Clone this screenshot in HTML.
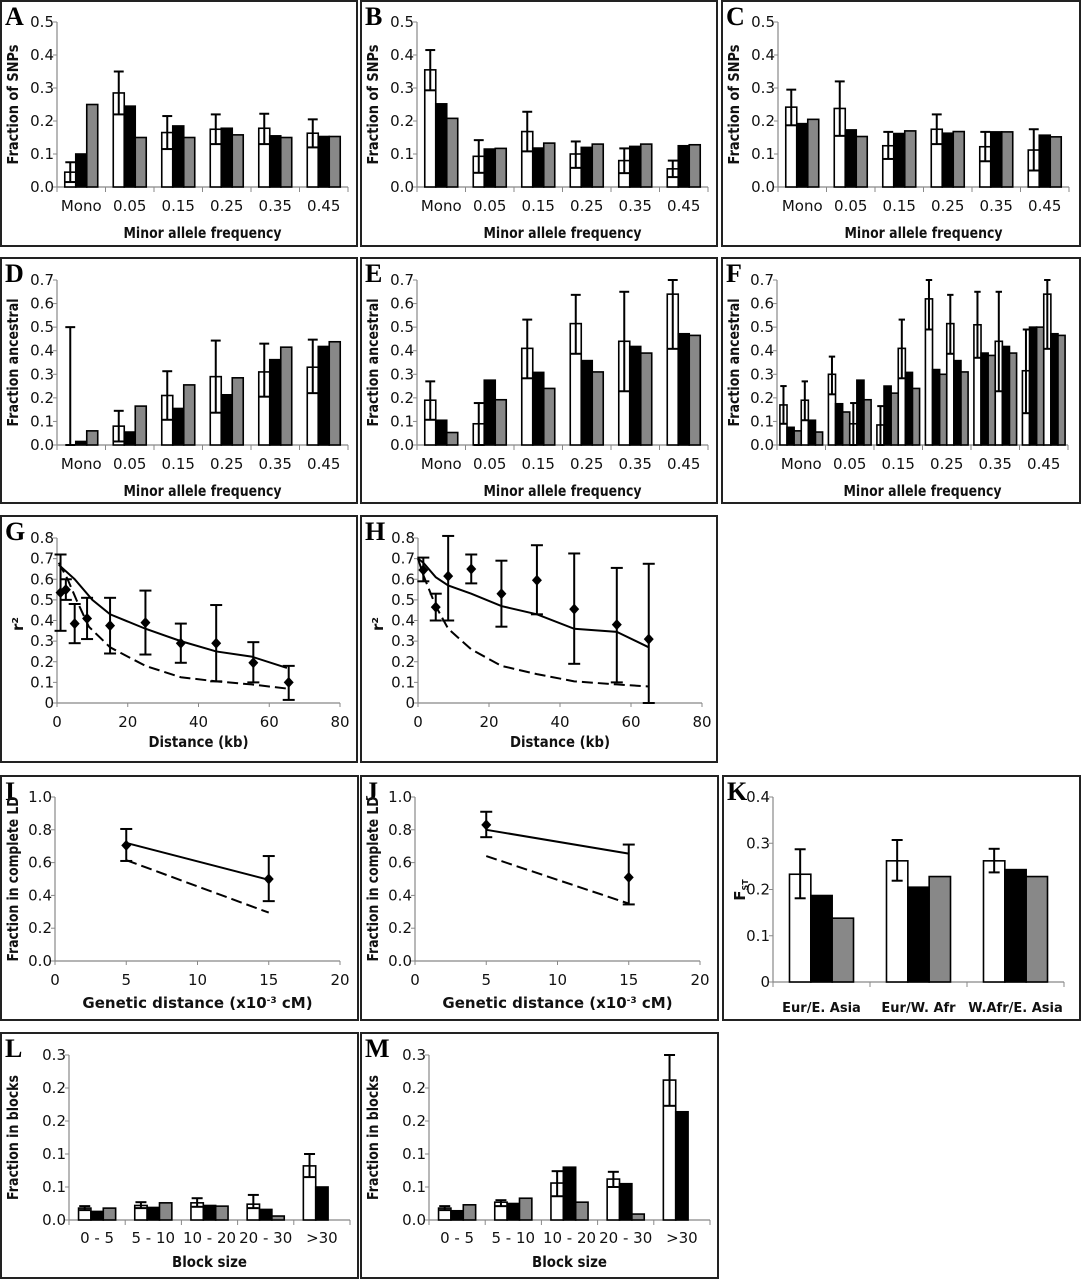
<!DOCTYPE html>
<html><head><meta charset="utf-8"><style>
html,body{margin:0;padding:0;background:#fff}
svg text{font-family:"DejaVu Sans","Liberation Sans",sans-serif}
.lt{font-family:"Liberation Serif",serif;font-weight:bold;font-size:26px}
.tk{font-size:15px;fill:#111}
.ti{font-size:15px;font-weight:bold;fill:#111}
.kl{font-size:13px;font-weight:bold;fill:#111}
</style></head><body>
<svg id="fig" xmlns="http://www.w3.org/2000/svg" width="1083" height="1280" viewBox="0 0 1083 1280"></svg>
<script>
// ---------- DATA ----------
const mafCats = ["Mono","0.05","0.15","0.25","0.35","0.45"];
const snpTicks = ["0.0","0.1","0.2","0.3","0.4","0.5"];
const ancTicks = ["0.0","0.1","0.2","0.3","0.4","0.5","0.6","0.7"];
// A
const aWhite = [0.045,0.285,0.165,0.175,0.178,0.163];
const aHi = [0.075,0.35,0.215,0.22,0.222,0.205];
const aLo = [0.015,0.22,0.115,0.13,0.13,0.12];
const aBlack = [0.1,0.245,0.185,0.178,0.155,0.153];
const aGray = [0.25,0.15,0.15,0.158,0.15,0.153];
// B
const bWhite = [0.355,0.093,0.168,0.1,0.08,0.055];
const bHi = [0.415,0.142,0.228,0.138,0.117,0.08];
const bLo = [0.293,0.043,0.108,0.058,0.042,0.03];
const bBlack = [0.252,0.115,0.118,0.12,0.123,0.125];
const bGray = [0.208,0.117,0.133,0.13,0.13,0.128];
// C
const cWhite = [0.242,0.238,0.125,0.175,0.122,0.112];
const cHi = [0.295,0.32,0.167,0.22,0.167,0.175];
const cLo = [0.187,0.155,0.085,0.13,0.078,0.05];
const cBlack = [0.192,0.173,0.162,0.163,0.167,0.157];
const cGray = [0.205,0.153,0.17,0.168,0.167,0.152];
// D
const dWhite = [0.0,0.08,0.21,0.29,0.31,0.33];
const dHi = [0.5,0.145,0.313,0.443,0.43,0.447];
const dLo = [0.0,0.015,0.107,0.137,0.205,0.22];
const dBlack = [0.015,0.055,0.155,0.213,0.362,0.418];
const dGray = [0.06,0.165,0.255,0.285,0.415,0.438];
// E
const eWhite = [0.19,0.09,0.41,0.515,0.44,0.64];
const eHi = [0.27,0.178,0.532,0.637,0.65,0.7];
const eLo = [0.107,0.0,0.283,0.387,0.228,0.408];
const eBlack = [0.105,0.275,0.308,0.358,0.418,0.472];
const eGray = [0.053,0.192,0.24,0.31,0.39,0.465];
// F (two sets)
const fWhite1 = [0.17,0.30,0.085,0.62,0.51,0.315];
const fHi1 = [0.25,0.375,0.165,0.70,0.65,0.49];
const fLo1 = [0.09,0.215,0.0,0.49,0.37,0.135];
const fBlack1 = [0.075,0.175,0.25,0.32,0.39,0.50];
const fGray1 = [0.06,0.14,0.22,0.30,0.38,0.50];
const fWhite2 = [0.19,0.09,0.41,0.515,0.44,0.64];
const fHi2 = [0.27,0.178,0.532,0.637,0.65,0.7];
const fLo2 = [0.105,0.0,0.283,0.387,0.228,0.408];
const fBlack2 = [0.105,0.275,0.308,0.358,0.418,0.472];
const fGray2 = [0.055,0.192,0.24,0.31,0.39,0.465];
// G
const r2Ticks = ["0","0.1","0.2","0.3","0.4","0.5","0.6","0.7","0.8"];
const distTicks = ["0","20","40","60","80"];
const gX = [1,2.5,5,8.5,15,25,35,45,55.5,65.5];
const gY = [0.535,0.55,0.385,0.41,0.375,0.39,0.29,0.29,0.195,0.1];
const gHi = [0.72,0.6,0.48,0.51,0.51,0.545,0.385,0.475,0.295,0.18];
const gLo = [0.35,0.5,0.29,0.31,0.24,0.235,0.195,0.105,0.1,0.015];
const gLineX = [0.5,5,10,15,25,35,45,55,65];
const gSolid = [0.67,0.6,0.5,0.43,0.36,0.3,0.25,0.225,0.17];
const gDashX = [0.5,3,5.5,9,15,25,35,45,55,65];
const gDash = [0.68,0.6,0.5,0.37,0.27,0.18,0.125,0.105,0.09,0.07];
// H
const hX = [1.5,5,8.5,15,23.5,33.5,44,56,65];
const hY = [0.645,0.465,0.615,0.65,0.53,0.595,0.455,0.38,0.31];
const hHi = [0.705,0.53,0.81,0.72,0.69,0.765,0.725,0.655,0.675];
const hLo = [0.59,0.4,0.4,0.58,0.37,0.43,0.19,0.1,0];
const hLineX = [0,1.5,5,8.5,15,23.5,33.5,44,56,65];
const hSolid = [0.7,0.68,0.61,0.57,0.53,0.47,0.43,0.36,0.345,0.27];
const hDash = [0.7,0.62,0.47,0.36,0.26,0.18,0.14,0.105,0.09,0.08];
// I, J
const ldTicks = ["0.0","0.2","0.4","0.6","0.8","1.0"];
const gdTicks = ["0","5","10","15","20"];
const ijX = [5,15];
const iY = [0.705,0.5], iHi = [0.805,0.64], iLo = [0.61,0.365];
const iSolid = [0.72,0.495], iDash = [0.615,0.295];
const jY = [0.83,0.51], jHi = [0.91,0.71], jLo = [0.755,0.345];
const jSolid = [0.8,0.655], jDash = [0.64,0.35];
// K
const kCats = ["Eur/E. Asia","Eur/W. Afr","W.Afr/E. Asia"];
const kTicks = ["0","0.1","0.2","0.3","0.4"];
const kWhite = [0.233,0.262,0.262];
const kHi = [0.287,0.307,0.288];
const kLo = [0.181,0.219,0.237];
const kBlack = [0.187,0.205,0.243];
const kGray = [0.138,0.228,0.228];
// L, M
const blkCats = ["0 - 5","5 - 10","10 - 20","20 - 30",">30"];
const blkTicks = ["0.0","0.1","0.1","0.2","0.2","0.3"];
const lWhite = [0.018,0.022,0.026,0.024,0.082];
const lHi = [0.021,0.027,0.033,0.038,0.1];
const lLo = [0.015,0.018,0.02,0.018,0.065];
const lBlack = [0.013,0.019,0.022,0.016,0.05];
const lGray = [0.018,0.026,0.021,0.006,0];
const mWhite = [0.018,0.027,0.056,0.062,0.212];
const mHi = [0.021,0.03,0.074,0.073,0.25];
const mLo = [0.015,0.021,0.036,0.05,0.173];
const mBlack = [0.014,0.025,0.08,0.055,0.164];
const mGray = [0.023,0.033,0.027,0.009,0];

// ---------- DRAWING ----------
const NS = "http://www.w3.org/2000/svg";
const svg = document.getElementById("fig");
function mk(tag, attrs, parent){
  const e = document.createElementNS(NS, tag);
  for (const k in attrs) e.setAttribute(k, attrs[k]);
  (parent || svg).appendChild(e);
  return e;
}
function txt(parent, x, y, s, cls, anchor){
  const t = mk("text", {x:x, y:y, "class":cls, "text-anchor":anchor||"middle"}, parent);
  t.textContent = s;
  return t;
}
function sy(P, v){ return P.yb - v / P.ymax * (P.yb - P.yt); }
function sx(P, v){ return P.x0 + v / P.xmax * (P.x1 - P.x0); }

function panel(name, letter, bx, by, bw, bh){
  const g = mk("g", {});
  
  
  const r = mk("rect", {x:bx, y:by, width:bw, height:bh, fill:"none", stroke:"#222", "stroke-width":2}, g);
  
  
  const l = txt(g, bx + 4, by + 24, letter, "lt", "start");
  
  
  return g;
}
function yAxis(g, P, labels){
  const ax = mk("line", {x1:P.x0, y1:P.yb, x2:P.x0, y2:P.yt, stroke:"#888", "stroke-width":1.2}, g);
  
  
  const step = P.ymax / (labels.length - 1);
  labels.forEach((s, i) => {
    const y = sy(P, i * step);
    mk("line", {x1:P.x0 - 4, y1:y, x2:P.x0, y2:y, stroke:"#888"}, g);
    const t = txt(g, P.x0 - 3, y + 5, s, "tk", "end");
    
    
  });
}
function yTitle(g, P, s, x, len){
  const cy = (P.yb + P.yt) / 2;
  const t = mk("text", {x:x, y:cy, "class":"ti", "text-anchor":"middle", transform:"rotate(-90 " + x + " " + cy + ")", textLength:len, lengthAdjust:"spacingAndGlyphs"}, g);
  t.textContent = s;
  
  
  return t;
}
function xTitle(g, P, s, y, len){
  const t = mk("text", {x:(P.x0 + P.x1) / 2 + (P.tdx || 0), y:y, "class":"ti", "text-anchor":"middle", textLength:len, lengthAdjust:"spacingAndGlyphs"}, g);
  t.textContent = s;
  
  
  return t;
}
function errBar(g, x, yh, yl, cap, sw){
  const e = mk("g", {}, g);
  
  
  mk("line", {x1:x, y1:yh, x2:x, y2:yl, stroke:"#000", "stroke-width":sw || 2}, e);
  mk("line", {x1:x - cap / 2, y1:yh, x2:x + cap / 2, y2:yh, stroke:"#000", "stroke-width":2}, e);
  mk("line", {x1:x - cap / 2, y1:yl, x2:x + cap / 2, y2:yl, stroke:"#000", "stroke-width":2}, e);
}
const FILLS = {w:"#fff", b:"#000", g:"#888"};
function barChart(g, P, cats, series, kinds, errs, labY){
  const n = cats.length, cw = (P.x1 - P.x0) / n, gw = cw * P.gf, bw = gw / series.length;
  mk("line", {x1:P.x0, y1:P.yb, x2:P.x1, y2:P.yb, stroke:"#888", "stroke-width":1.2}, g);
  for (let i = 0; i <= n; i++) {
    const x = P.x0 + i * cw;
    mk("line", {x1:x, y1:P.yb, x2:x, y2:P.yb + 5, stroke:"#888"}, g);
  }
  cats.forEach((c, i) => {
    const t = txt(g, P.x0 + (i + 0.5) * cw + (P.ldx || 0), labY, c, P.labCls || "tk", "middle");
    
    
  });
  series.forEach((arr, j) => {
    arr.forEach((v, i) => {
      const x = P.x0 + i * cw + (cw - gw) / 2 + j * bw;
      const y = sy(P, v);
      const r = mk("rect", {x:x, y:y, width:bw, height:Math.max(0, P.yb - y), fill:FILLS[kinds[j]], stroke:"#000", "stroke-width":1.6}, g);
      
      
    });
  });
  errs.forEach(([j, hi, lo]) => {
    hi.forEach((h, i) => {
      const x = P.x0 + i * cw + (cw - gw) / 2 + (j + 0.5) * bw;
      errBar(g, x, sy(P, h), sy(P, lo[i]), Math.min(bw * 0.9, 11));
    });
  });
}
function scatterChart(g, P, xLabels, px, py, hi, lo, lx, solid, dx, dash){
  mk("line", {x1:P.x0, y1:P.yb, x2:P.x1, y2:P.yb, stroke:"#888", "stroke-width":1.2}, g);
  const step = P.xmax / (xLabels.length - 1);
  xLabels.forEach((s, i) => {
    const x = sx(P, i * step);
    mk("line", {x1:x, y1:P.yb, x2:x, y2:P.yb + 4, stroke:"#888"}, g);
    const t = txt(g, x, P.yb + 24, s, "tk", "middle");
    
    
  });
  const sp = mk("polyline", {points:lx.map((x, i) => sx(P, x) + "," + sy(P, solid[i])).join(" "), fill:"none", stroke:"#000", "stroke-width":2}, g);
  
  
  const dp = mk("polyline", {points:dx.map((x, i) => sx(P, x) + "," + sy(P, dash[i])).join(" "), fill:"none", stroke:"#000", "stroke-width":2, "stroke-dasharray":"11,5"}, g);
  
  
  px.forEach((x, i) => {
    const X = sx(P, x);
    errBar(g, X, sy(P, hi[i]), sy(P, lo[i]), 12, 2);
    const Y = sy(P, py[i]);
    const d = mk("polygon", {points:[X, Y - 5.5, X + 5, Y, X, Y + 5.5, X - 5, Y].join(","), fill:"#000"}, g);
    
    
  });
}

// Row 1
[["panel-a","A",1,57,348,[aWhite,aBlack,aGray],aHi,aLo],
 ["panel-b","B",361,417,708,[bWhite,bBlack,bGray],bHi,bLo],
 ["panel-c","C",722,778,1069,[cWhite,cBlack,cGray],cHi,cLo]].forEach(c => {
  const g = panel(c[0], c[1], c[2], 1, c[2] === 722 ? 358 : 356, 245);
  const P = {x0:c[3], x1:c[4], yb:187, yt:22, ymax:0.5, gf:0.68};
  yAxis(g, P, snpTicks);
  barChart(g, P, mafCats, c[5], ["w","b","g"], [[0, c[6], c[7]]], 211);
  yTitle(g, P, "Fraction of SNPs", c[2] + 17, 120);
  xTitle(g, P, "Minor allele frequency", 238, 158);
});
// Row 2
[["panel-d","D",1,57,348,[dWhite,dBlack,dGray],dHi,dLo],
 ["panel-e","E",361,417,708,[eWhite,eBlack,eGray],eHi,eLo]].forEach(c => {
  const g = panel(c[0], c[1], c[2], 258, 356, 245);
  const P = {x0:c[3], x1:c[4], yb:445, yt:280, ymax:0.7, gf:0.68};
  yAxis(g, P, ancTicks);
  barChart(g, P, mafCats, c[5], ["w","b","g"], [[0, c[6], c[7]]], 469);
  yTitle(g, P, "Fraction ancestral", c[2] + 17, 128);
  xTitle(g, P, "Minor allele frequency", 496, 158);
});
(function(){
  const g = panel("panel-f","F",722,258,358,245);
  const P = {x0:777, x1:1068, yb:445, yt:280, ymax:0.7, gf:0.88};
  yAxis(g, P, ancTicks);
  barChart(g, P, mafCats, [fWhite1,fBlack1,fGray1,fWhite2,fBlack2,fGray2], ["w","b","g","w","b","g"], [[0,fHi1,fLo1],[3,fHi2,fLo2]], 469);
  yTitle(g, P, "Fraction ancestral", 739, 128);
  xTitle(g, P, "Minor allele frequency", 496, 158);
})();
// Row 3
[["panel-g","G",1,57,340,gX,gY,gHi,gLo,gLineX,gSolid,gDashX,gDash],
 ["panel-h","H",361,418,702,hX,hY,hHi,hLo,hLineX,hSolid,hLineX,hDash]].forEach(c => {
  const g = panel(c[0], c[1], c[2], 516, 356, 246);
  const P = {x0:c[3], x1:c[4], yb:703, yt:538, ymax:0.8, xmax:80};
  yAxis(g, P, r2Ticks);
  scatterChart(g, P, distTicks, c[5], c[6], c[7], c[8], c[9], c[10], c[11], c[12]);
  const yt = mk("text", {x:c[2] + 22, y:624, "class":"ti", "text-anchor":"middle", transform:"rotate(-90 " + (c[2] + 22) + " 624)"}, g);
  yt.textContent = "r²";
  
  
  xTitle(g, P, "Distance (kb)", 747, 100);
});
// Row 4
[["panel-i","I",1,55,340,iY,iHi,iLo,iSolid,iDash],
 ["panel-j","J",361,415,700,jY,jHi,jLo,jSolid,jDash]].forEach(c => {
  const g = panel(c[0], c[1], c[2], 776, 357, 244);
  const P = {x0:c[3], x1:c[4], yb:961, yt:797, ymax:1.0, xmax:20};
  yAxis(g, P, ldTicks);
  scatterChart(g, P, gdTicks, ijX, c[5], c[6], c[7], ijX, c[8], ijX, c[9]);
  yTitle(g, P, "Fraction in complete LD", c[2] + 17, 165);
  const t = mk("text", {x:(P.x0 + P.x1) / 2, y:1008, "class":"ti", "text-anchor":"middle"}, g);
  t.textContent = "Genetic distance (x10";
  const s1 = mk("tspan", {"font-size":9, dy:-5}, t); s1.textContent = "-3";
  const s2 = mk("tspan", {dy:5}, t); s2.textContent = " cM)";
  
  
});
(function(){
  const g = panel("panel-k","K",723,776,357,244);
  const P = {x0:773, x1:1064, yb:982, yt:797, ymax:0.4, gf:0.66, labCls:"kl"};
  yAxis(g, P, kTicks);
  barChart(g, P, kCats, [kWhite,kBlack,kGray], ["w","b","g"], [[0,kHi,kLo]], 1012);
  const t = mk("text", {x:745, y:890, "class":"ti", "text-anchor":"middle", transform:"rotate(-90 745 890)", "font-size":15}, g);
  t.textContent = "F";
  const s = mk("tspan", {"font-size":8, dy:3}, t); s.textContent = "ST";
  
  
})();
// Row 5
[["panel-l","L",1,69,350,[lWhite,lBlack,lGray],lHi,lLo],
 ["panel-m","M",361,429,710,[mWhite,mBlack,mGray],mHi,mLo]].forEach(c => {
  const g = panel(c[0], c[1], c[2], 1033, 357, 245);
  const P = {x0:c[3], x1:c[4], yb:1220, yt:1055, ymax:0.25, gf:0.66};
  yAxis(g, P, blkTicks);
  barChart(g, P, blkCats, c[5], ["w","b","g"], [[0, c[6], c[7]]], 1243);
  yTitle(g, P, "Fraction in blocks", c[2] + 17, 125);
  xTitle(g, P, "Block size", 1267, 75);
});
</script>
</body></html>
